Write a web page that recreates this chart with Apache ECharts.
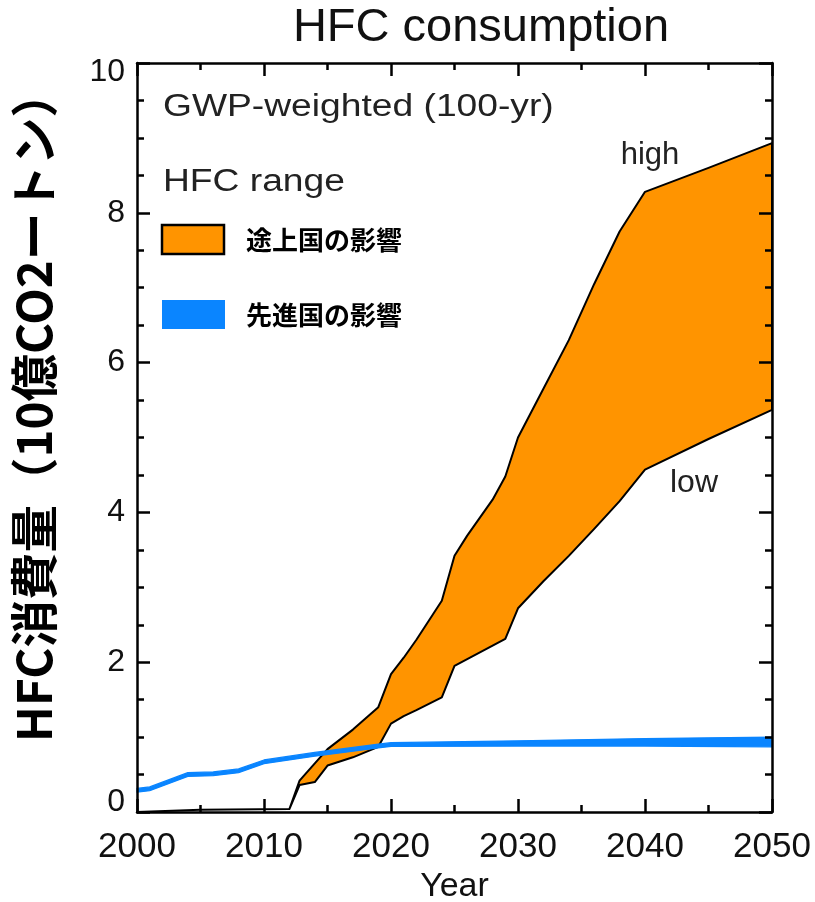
<!DOCTYPE html>
<html>
<head>
<meta charset="utf-8">
<script src="https://cdn.jsdelivr.net/npm/echarts@6/dist/echarts.min.js"></script>
<style>html,body{margin:0;padding:0;background:#fff}#c{width:815px;height:902px}</style>
</head>
<body>
<div id="c"></div>
<script>
// Developing-country HFC range (orange band)
const years = [2000, 2005, 2012, 2012.8, 2014, 2015, 2017, 2019, 2020, 2021, 2022, 2024, 2025, 2026, 2028, 2029, 2030, 2032, 2034, 2036, 2038, 2040, 2045, 2050];
const high  = [0.00, 0.03, 0.04, 0.42, 0.65, 0.84, 1.10, 1.40, 1.84, 2.06, 2.30, 2.82, 3.42, 3.69, 4.17, 4.48, 5.00, 5.65, 6.30, 7.05, 7.75, 8.28, 8.60, 8.93];
const low   = [0.00, 0.03, 0.04, 0.36, 0.40, 0.62, 0.73, 0.87, 1.18, 1.28, 1.36, 1.53, 1.95, 2.04, 2.22, 2.31, 2.72, 3.08, 3.42, 3.78, 4.15, 4.57, 4.98, 5.37];
// Developed-country band (blue)
const blueYears = [2000, 2001, 2004, 2006, 2008, 2010, 2014, 2019, 2020, 2030, 2040, 2050];
const blueLow   = [0.265, 0.285, 0.475, 0.485, 0.525, 0.645, 0.745, 0.855, 0.875, 0.88, 0.88, 0.87];
const blueHigh  = [0.315, 0.335, 0.525, 0.535, 0.575, 0.695, 0.795, 0.905, 0.925, 0.95, 0.98, 1.00];
// Axis ticks
const xTicks = {min: 2000, max: 2050, interval: 10};
const yTicks = {min: 0, max: 10, interval: 2};
const texts = {
  title: 'HFC consumption',
  yName: 'HFC消費量（10億CO2ートン）',
  xName: 'Year',
  sub: 'GWP-weighted (100-yr)',
  range: 'HFC range',
  dev: '途上国の影響',
  adv: '先進国の影響',
  high: 'high',
  low: 'low'
};

const LAT = '"Liberation Sans", Arial, Helvetica, sans-serif';
const CJK = '"Noto Sans CJK JP", "Noto Sans", sans-serif';
const ORANGE = '#ff9400';
const BLUE = '#0a85ff';

function bandItem(fill, stroke, lw) {
  return function (params, api) {
    if (params.dataIndex !== 0) return null;
    const n = params.dataInsideLength;
    const pts = [];
    for (let i = 0; i < n; i++) pts.push(api.coord([api.value(0, i), api.value(2, i)]));
    for (let i = n - 1; i >= 0; i--) pts.push(api.coord([api.value(0, i), api.value(1, i)]));
    return {type: 'polygon', shape: {points: pts}, style: {fill: fill, stroke: stroke, lineWidth: lw, lineJoin: 'round'}};
  };
}

const axisLine = {show: true, onZero: false, lineStyle: {color: '#000', width: 2.5}};
const tick = {show: true, inside: true, length: 13, lineStyle: {color: '#000', width: 2.5}};
function minor(n) { return {show: true, splitNumber: n, length: 7, lineStyle: {color: '#000', width: 2.5}}; }

const chart = echarts.init(document.getElementById('c'));
chart.setOption({
  animation: false,
  backgroundColor: '#fff',
  grid: {left: 137, right: 43, top: 63, bottom: 90, containLabel: false, outerBoundsMode: 'none'},
  xAxis: [
    {type: 'value', min: xTicks.min, max: xTicks.max, interval: xTicks.interval, position: 'bottom',
     axisLine: axisLine, axisTick: tick, minorTick: minor(2), splitLine: {show: false}, minorSplitLine: {show: false},
     axisLabel: {formatter: v => String(v), fontFamily: LAT, fontSize: 35, color: '#111', margin: 18},
     name: texts.xName, nameLocation: 'middle', nameGap: 55,
     nameTextStyle: {fontFamily: LAT, fontSize: 34, color: '#111'}, z: 5},
    {type: 'value', min: xTicks.min, max: xTicks.max, interval: xTicks.interval, position: 'top',
     axisLine: axisLine, axisTick: tick, minorTick: minor(2), splitLine: {show: false}, axisLabel: {show: false}, z: 5}
  ],
  yAxis: [
    {type: 'value', min: yTicks.min, max: yTicks.max, interval: yTicks.interval, position: 'left',
     axisLine: axisLine, axisTick: tick, minorTick: minor(4), splitLine: {show: false}, minorSplitLine: {show: false},
     axisLabel: {
       fontFamily: LAT, fontSize: 32, color: '#111', margin: 12,
       formatter: v => v === yTicks.max ? '{t|' + v + '}' : (v === yTicks.min ? '{b|' + v + '}' : String(v)),
       rich: {
         t: {fontFamily: LAT, fontSize: 32, color: '#111', padding: [18, 0, 0, 0]},
         b: {fontFamily: LAT, fontSize: 32, color: '#111', padding: [0, 0, 20, 0]}
       }
     }, z: 5},
    {type: 'value', min: yTicks.min, max: yTicks.max, interval: yTicks.interval, position: 'right',
     axisLine: axisLine, axisTick: tick, minorTick: minor(4), splitLine: {show: false}, axisLabel: {show: false}, z: 5}
  ],
  series: [
    {type: 'custom', name: texts.dev, coordinateSystem: 'cartesian2d', xAxisIndex: 0, yAxisIndex: 0,
     renderItem: bandItem(ORANGE, '#000', 2), encode: {x: 0, y: [1, 2]}, z: 2, silent: true,
     data: years.map((y, i) => [y, low[i], high[i]])},
    {type: 'custom', name: texts.adv, coordinateSystem: 'cartesian2d', xAxisIndex: 0, yAxisIndex: 0,
     renderItem: bandItem(BLUE, BLUE, 1.2), encode: {x: 0, y: [1, 2]}, z: 3, silent: true,
     data: blueYears.map((y, i) => [y, blueLow[i], blueHigh[i]])}
  ],
  graphic: [
    {type: 'text', x: 481, y: 28, style: {text: texts.title, fontFamily: LAT, fontSize: 47, fill: '#111', textAlign: 'center', textVerticalAlign: 'middle'}},
    {type: 'text', x: 34, y: 406, rotation: Math.PI / 2, style: {text: texts.yName, fontFamily: CJK, fontWeight: 'bold', fontSize: 47.5, fill: '#000', textAlign: 'center', textVerticalAlign: 'middle'}},
    {type: 'text', x: 163, y: 107, scaleX: 1.2, style: {text: texts.sub, fontFamily: LAT, fontSize: 31, fill: '#222', textAlign: 'left', textVerticalAlign: 'middle'}},
    {type: 'text', x: 163, y: 182, scaleX: 1.2, style: {text: texts.range, fontFamily: LAT, fontSize: 31, fill: '#222', textAlign: 'left', textVerticalAlign: 'middle'}},
    {type: 'rect', shape: {x: 162, y: 225, width: 62, height: 29}, style: {fill: ORANGE, stroke: '#000', lineWidth: 2.5}, z: 10},
    {type: 'rect', shape: {x: 162, y: 300, width: 63, height: 29}, style: {fill: BLUE}, z: 10},
    {type: 'text', x: 246, y: 240, style: {text: texts.dev, fontFamily: CJK, fontWeight: 'bold', fontSize: 26, fill: '#000', textAlign: 'left', textVerticalAlign: 'middle'}, z: 10},
    {type: 'text', x: 246, y: 315, style: {text: texts.adv, fontFamily: CJK, fontWeight: 'bold', fontSize: 26, fill: '#000', textAlign: 'left', textVerticalAlign: 'middle'}, z: 10},
    {type: 'text', x: 650, y: 155, style: {text: texts.high, fontFamily: LAT, fontSize: 31, fill: '#222', textAlign: 'center', textVerticalAlign: 'middle'}, z: 10},
    {type: 'text', x: 694, y: 483, style: {text: texts.low, fontFamily: LAT, fontSize: 32, fill: '#222', textAlign: 'center', textVerticalAlign: 'middle'}, z: 10}
  ]
});
</script>
</body>
</html>
